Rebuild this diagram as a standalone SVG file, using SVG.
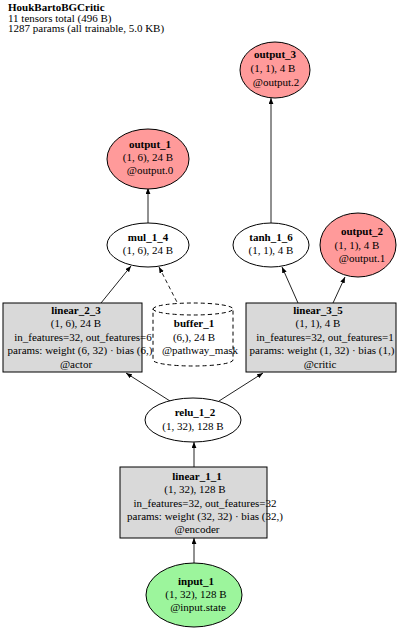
<svg xmlns="http://www.w3.org/2000/svg" width="400" height="630" viewBox="0 0 400 630">
<defs>
<marker id="ah" viewBox="0 0 10 8" refX="10" refY="4" markerWidth="6" markerHeight="5" orient="auto" markerUnits="userSpaceOnUse">
<path d="M0,0 L10,4 L0,8 z" fill="#000"/>
</marker>
<style>
text{font-family:"Liberation Serif","DejaVu Serif",serif;font-size:11px;fill:#000}
.t{text-anchor:middle}
.b{font-weight:bold}
.op{fill:#ff9a9a;stroke:#000;stroke-width:1}
.in{fill:#9cf59c;stroke:#000;stroke-width:1}
.fn{fill:#fff;stroke:#000;stroke-width:1}
.mod{fill:#d9d9d9;stroke:#000;stroke-width:1}
.buf{fill:#fff;stroke:#000;stroke-width:1;stroke-dasharray:4,3}
.e{stroke:#222;stroke-width:1;fill:none;marker-end:url(#ah)}
.d{stroke-dasharray:4,3}
</style>
</defs>
<rect width="400" height="630" fill="#fff"/>
<g id="title">
<text x="8" y="11" class="b">HoukBartoBGCritic</text>
<text x="8" y="21.5">11 tensors total (496 B)</text>
<text x="8" y="32">1287 params (all trainable, 5.0 KB)</text>
</g>
<g id="edges">
<line class="e" x1="194" y1="563" x2="194" y2="538"/>
<line class="e" x1="194" y1="467" x2="194" y2="442"/>
<line class="e" x1="170" y1="401" x2="126" y2="373"/>
<line class="e" x1="219" y1="401" x2="263" y2="373"/>
<line class="e" x1="101" y1="303" x2="131" y2="266"/>
<line class="e d" x1="180" y1="308" x2="159" y2="267"/>
<line class="e" x1="148" y1="223" x2="148" y2="188"/>
<line class="e" x1="298" y1="303" x2="282" y2="267"/>
<line class="e" x1="333" y1="303" x2="345" y2="277"/>
<line class="e" x1="271" y1="223" x2="271" y2="98"/>
</g>
<g id="output_3">
<ellipse class="op" cx="275" cy="70" rx="35" ry="28"/>
<text x="275" y="58" class="t b">output_3</text>
<text x="273" y="72" class="t">(1, 1), 4 B</text>
<text x="276" y="86" class="t">@output.2</text>
</g>
<g id="output_1">
<ellipse class="op" cx="148" cy="159" rx="41" ry="30"/>
<text x="150" y="148" class="t b">output_1</text>
<text x="148" y="161" class="t">(1, 6), 24 B</text>
<text x="150" y="174" class="t">@output.0</text>
</g>
<g id="mul_1_4">
<ellipse class="fn" cx="148" cy="245" rx="41" ry="22"/>
<text x="148" y="241" class="t b">mul_1_4</text>
<text x="148" y="254" class="t">(1, 6), 24 B</text>
</g>
<g id="tanh_1_6">
<ellipse class="fn" cx="271" cy="245" rx="38" ry="22"/>
<text x="271" y="241" class="t b">tanh_1_6</text>
<text x="271" y="254" class="t">(1, 1), 4 B</text>
</g>
<g id="output_2">
<ellipse class="op" cx="358" cy="245" rx="38" ry="32"/>
<text x="362" y="235" class="t b">output_2</text>
<text x="357" y="249" class="t">(1, 1), 4 B</text>
<text x="362" y="262" class="t">@output.1</text>
</g>
<g id="linear_2_3">
<rect class="mod" x="3" y="303" width="139" height="69"/>
<text x="76" y="314" class="t b">linear_2_3</text>
<text x="76" y="327" class="t">(1, 6), 24 B</text>
<text x="83" y="341" class="t">in_features=32, out_features=6</text>
<text x="80" y="354" class="t">params: weight (6, 32) · bias (6,)</text>
<text x="76" y="368" class="t">@actor</text>
</g>
<g id="buffer_1">
<path class="buf" d="M153,309 A40,6 0 0 1 233,309 L233,360 A40,6 0 0 1 153,360 Z"/>
<path class="buf" d="M153,309 A40,6 0 0 0 233,309" fill="none"/>
<text x="194" y="327" class="t b">buffer_1</text>
<text x="194" y="341" class="t">(6,), 24 B</text>
<text x="200" y="354" class="t">@pathway_mask</text>
</g>
<g id="linear_3_5">
<rect class="mod" x="246" y="303" width="150" height="69"/>
<text x="318" y="314" class="t b">linear_3_5</text>
<text x="318" y="327" class="t">(1, 1), 4 B</text>
<text x="325" y="341" class="t">in_features=32, out_features=1</text>
<text x="322" y="354" class="t">params: weight (1, 32) · bias (1,)</text>
<text x="320" y="368" class="t">@critic</text>
</g>
<g id="relu_1_2">
<ellipse class="fn" cx="193" cy="420" rx="48" ry="22"/>
<text x="195" y="416" class="t b">relu_1_2</text>
<text x="193" y="430" class="t">(1, 32), 128 B</text>
</g>
<g id="linear_1_1">
<rect class="mod" x="120" y="467" width="147" height="71"/>
<text x="197" y="480" class="t b">linear_1_1</text>
<text x="195" y="493" class="t">(1, 32), 128 B</text>
<text x="205" y="507" class="t">in_features=32, out_features=32</text>
<text x="205" y="520" class="t">params: weight (32, 32) · bias (32,)</text>
<text x="197" y="533" class="t">@encoder</text>
</g>
<g id="input_1">
<ellipse class="in" cx="194" cy="595" rx="48" ry="32"/>
<text x="196" y="585" class="t b">input_1</text>
<text x="196" y="598" class="t">(1, 32), 128 B</text>
<text x="198" y="611" class="t">@input.state</text>
</g>
</svg>
